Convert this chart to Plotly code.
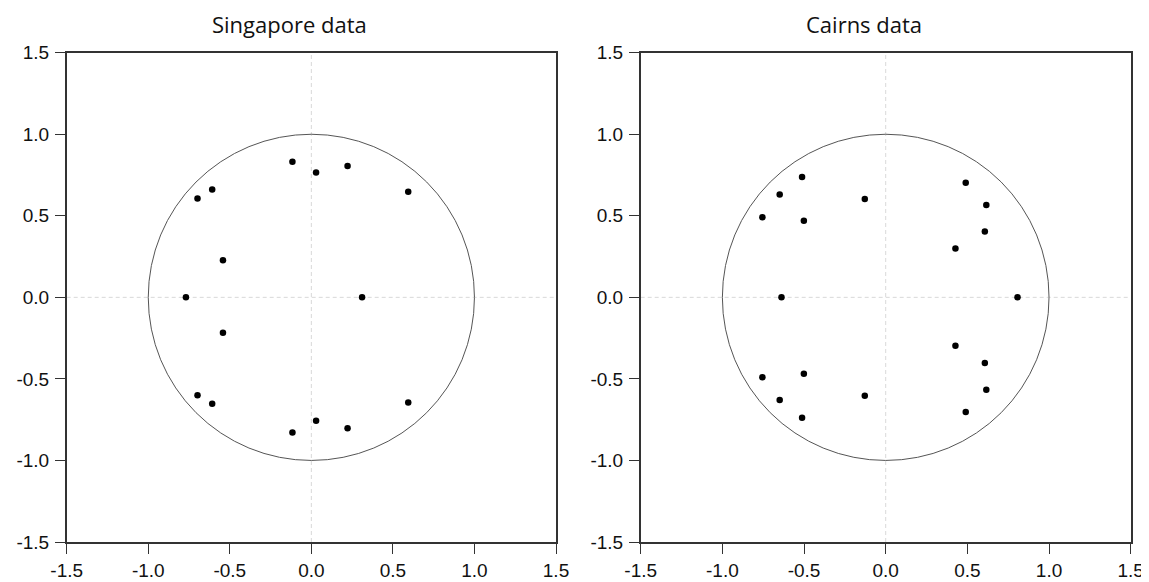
import plotly.graph_objects as go

titles = ["Singapore data", "Cairns data"]

sing_re = [-0.116, 0.029, 0.222, 0.594, -0.698, -0.608, -0.542, -0.769, 0.311,
           -0.542, -0.698, -0.608, -0.116, 0.029, 0.222, 0.594]
sing_im = [0.831, 0.765, 0.806, 0.647, 0.606, 0.661, 0.227, 0.0, 0.0,
           -0.217, -0.601, -0.652, -0.828, -0.757, -0.802, -0.644]

cairns_re = [-0.512, -0.649, -0.755, -0.501, -0.128, 0.490, 0.616, 0.607, 0.427, -0.638, 0.807,
             0.427, 0.607, 0.616, 0.490, -0.755, -0.501, -0.649, -0.512, -0.128]
cairns_im = [0.738, 0.630, 0.491, 0.470, 0.603, 0.703, 0.566, 0.403, 0.299, 0.0, 0.0,
             -0.297, -0.402, -0.566, -0.703, -0.490, -0.469, -0.629, -0.738, -0.604]

tick_vals = [-1.5, -1.0, -0.5, 0.0, 0.5, 1.0, 1.5]
tick_text = ["-1.5", "-1.0", "-0.5", "0.0", "0.5", "1.0", "1.5"]
unit_radius = 1.0

# page has an 8px body margin; work in page pixels and convert
OFF = 8
W, H = 1149 - OFF, 582 - OFF


def px_x(p):
    return (p - OFF) / W


def px_y(p):
    return 1 - (p - OFF) / H


dom_y = [px_y(542), px_y(52.7)]
dom_x = [[px_x(66.7), px_x(556)], [px_x(640.7), px_x(1130.7)]]
title_x = [px_x(289), px_x(864)]

fig = go.Figure()
series = [(sing_re, sing_im), (cairns_re, cairns_im)]
for i, (re, im) in enumerate(series):
    n = "" if i == 0 else str(i + 1)
    xa = "x" + n
    ya = "y" + n
    fig.add_trace(go.Scatter(x=re, y=im, mode="markers",
                             marker=dict(color="black", size=6.5),
                             xaxis=xa, yaxis=ya, showlegend=False,
                             cliponaxis=False))
    # zero reference lines
    fig.add_shape(type="line", xref=xa, yref=ya + " domain", x0=0, x1=0, y0=0, y1=1,
                  line=dict(color="#d9d9d9", width=1, dash="4px,3px"), layer="below")
    fig.add_shape(type="line", xref=xa + " domain", yref=ya, x0=0, x1=1, y0=0, y1=0,
                  line=dict(color="#d9d9d9", width=1, dash="4px,3px"), layer="below")
    # unit circle
    fig.add_shape(type="circle", xref=xa, yref=ya,
                  x0=-unit_radius, x1=unit_radius, y0=-unit_radius, y1=unit_radius,
                  line=dict(color="#555555", width=1), layer="below")
    axis_common = dict(range=[-1.5, 1.5], tickvals=tick_vals, ticktext=tick_text,
                       showgrid=False, zeroline=False, showline=True, mirror=True,
                       linecolor="#333333", linewidth=1.5, ticks="outside",
                       ticklen=10, tickwidth=1, tickcolor="#333333", automargin=False,
                       tickfont=dict(family="Liberation Sans, Arial", size=19, color="#111111"))
    fig.layout["xaxis" + n] = dict(domain=dom_x[i], anchor=ya, **axis_common)
    fig.layout["yaxis" + n] = dict(domain=dom_y, anchor=xa, ticklabelstandoff=2, **axis_common)
    fig.add_annotation(text=titles[i], xref="paper", yref="paper",
                       x=title_x[i], y=1.0, xanchor="center", yanchor="top",
                       showarrow=False, borderpad=0,
                       font=dict(family="Open Sans", size=22, color="#111111"))

fig.update_layout(template="none", width=W, height=H,
                  margin=dict(l=0, r=0, t=0, b=0, autoexpand=False),
                  plot_bgcolor="white", paper_bgcolor="white")
fig.write_html("out.html")
